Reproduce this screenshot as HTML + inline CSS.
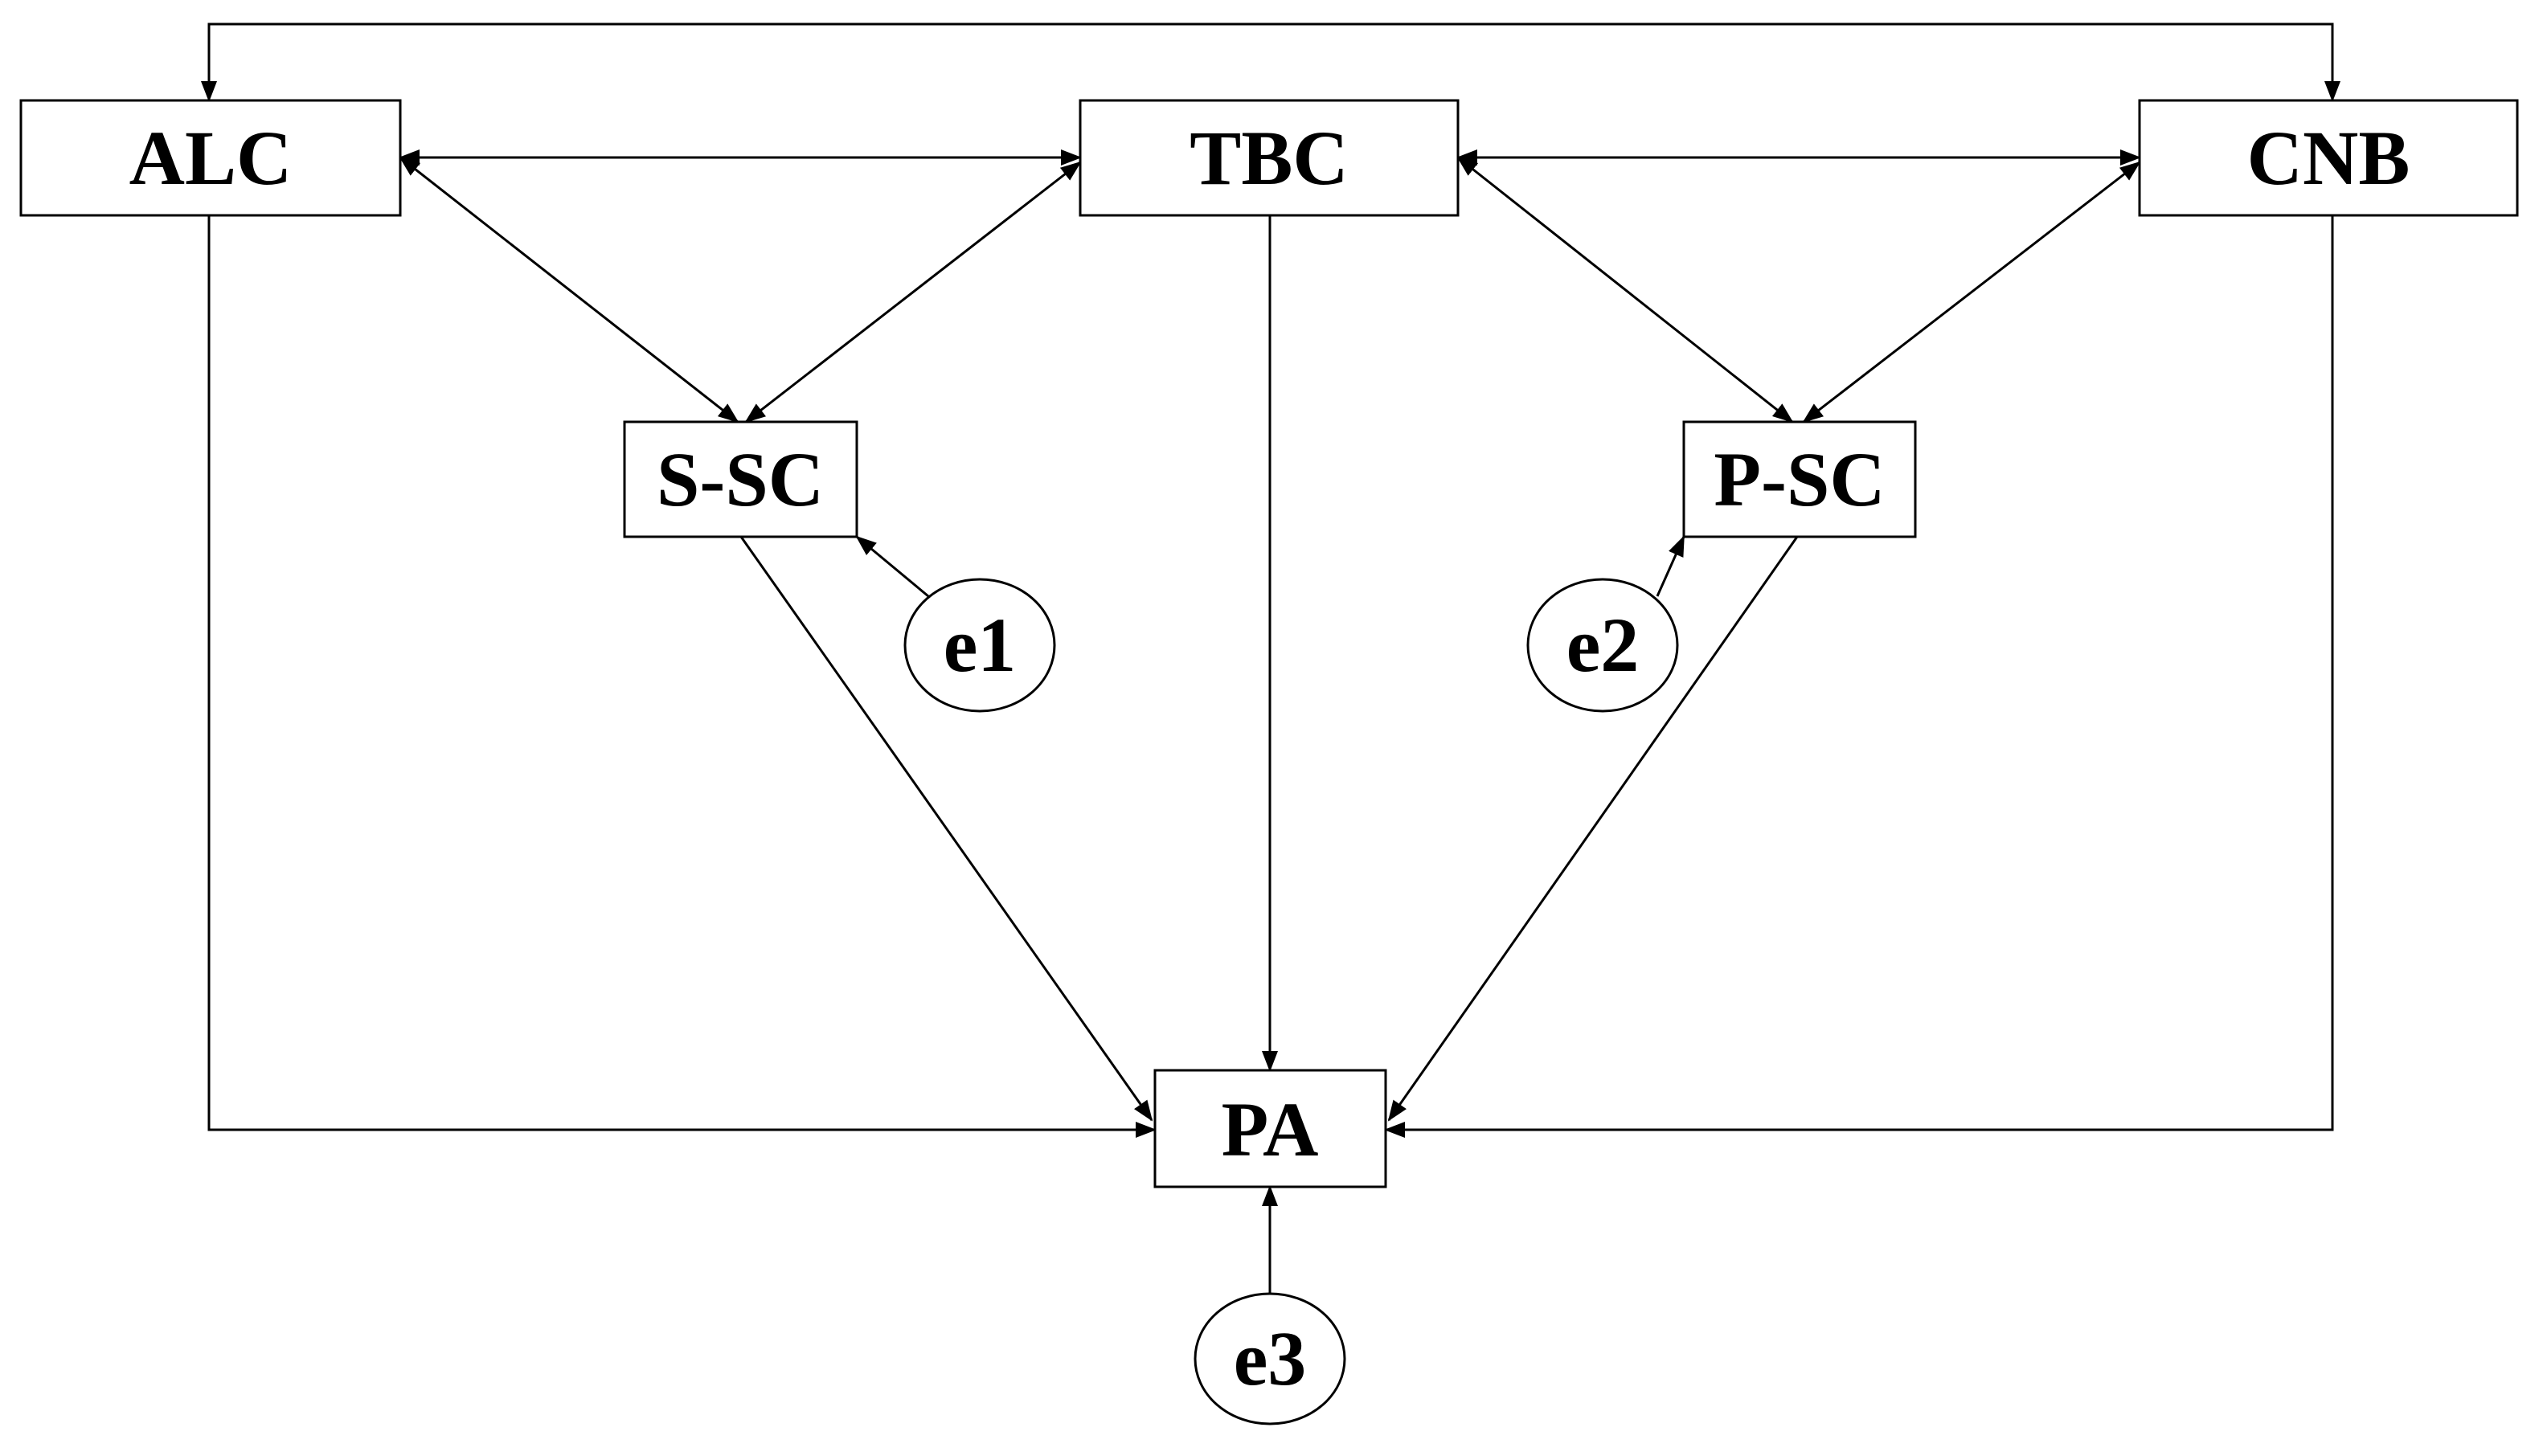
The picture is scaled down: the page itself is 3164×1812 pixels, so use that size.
<!DOCTYPE html>
<html><head><meta charset="utf-8"><style>
html,body{margin:0;padding:0;background:#fff;}
svg{display:block;}
text{font-family:"Liberation Serif",serif;font-weight:bold;fill:#000;}
</style></head><body>
<svg width="3164" height="1812" viewBox="0 0 3164 1812" xmlns="http://www.w3.org/2000/svg">
<defs>
<marker id="a" markerUnits="userSpaceOnUse" markerWidth="26" markerHeight="20" refX="24" refY="10" orient="auto-start-reverse">
<path d="M0,0 L26,10 L0,20 Z" fill="#000"/>
</marker>
</defs>
<g stroke="#000" stroke-width="3" fill="none">
<!-- top connector -->
<path d="M260,125 L260,30 L2902,30 L2902,125" marker-start="url(#a)" marker-end="url(#a)"/>
<!-- horizontal double arrows -->
<line x1="498" y1="196" x2="1344" y2="196" marker-start="url(#a)" marker-end="url(#a)"/>
<line x1="1814" y1="196" x2="2662" y2="196" marker-start="url(#a)" marker-end="url(#a)"/>
<!-- diagonals to S-SC -->
<line x1="498" y1="196" x2="918" y2="525" marker-start="url(#a)" marker-end="url(#a)"/>
<line x1="1344" y1="202" x2="928" y2="525" marker-start="url(#a)" marker-end="url(#a)"/>
<!-- diagonals to P-SC -->
<line x1="1814" y1="196" x2="2230" y2="525" marker-start="url(#a)" marker-end="url(#a)"/>
<line x1="2662" y1="202" x2="2244" y2="525" marker-start="url(#a)" marker-end="url(#a)"/>
<!-- to PA -->
<path d="M260,268 L260,1406 L1437,1406" marker-end="url(#a)"/>
<path d="M2902,268 L2902,1406 L1724,1406" marker-end="url(#a)"/>
<line x1="1580" y1="268" x2="1580" y2="1332" marker-end="url(#a)"/>
<line x1="922" y1="668" x2="1433" y2="1394" marker-end="url(#a)"/>
<line x1="2236" y1="668" x2="1728" y2="1394" marker-end="url(#a)"/>
<!-- errors -->
<line x1="1155" y1="742" x2="1066" y2="668" marker-end="url(#a)"/>
<line x1="2062" y1="742" x2="2095" y2="668" marker-end="url(#a)"/>
<line x1="1580" y1="1610" x2="1580" y2="1477" marker-end="url(#a)"/>
<!-- boxes -->
<rect x="26" y="125" width="472" height="143" fill="#fff"/>
<rect x="1344" y="125" width="470" height="143" fill="#fff"/>
<rect x="2662" y="125" width="470" height="143" fill="#fff"/>
<rect x="777" y="525" width="289" height="143" fill="#fff"/>
<rect x="2095" y="525" width="288" height="143" fill="#fff"/>
<rect x="1437" y="1332" width="287" height="145" fill="#fff"/>
<ellipse cx="1219" cy="803" rx="93" ry="82" fill="#fff"/>
<ellipse cx="1994" cy="803" rx="93" ry="82" fill="#fff"/>
<ellipse cx="1580" cy="1691" rx="93" ry="81" fill="#fff"/>
</g>
<g font-size="96" text-anchor="middle">
<text x="262" y="229">ALC</text>
<text x="1579" y="229">TBC</text>
<text x="2897" y="229">CNB</text>
<text x="921" y="629">S-SC</text>
<text x="2239" y="629">P-SC</text>
<text x="1580" y="1438">PA</text>
<text x="1219" y="835">e1</text>
<text x="1994" y="835">e2</text>
<text x="1580" y="1723">e3</text>
</g>
</svg>
</body></html>
